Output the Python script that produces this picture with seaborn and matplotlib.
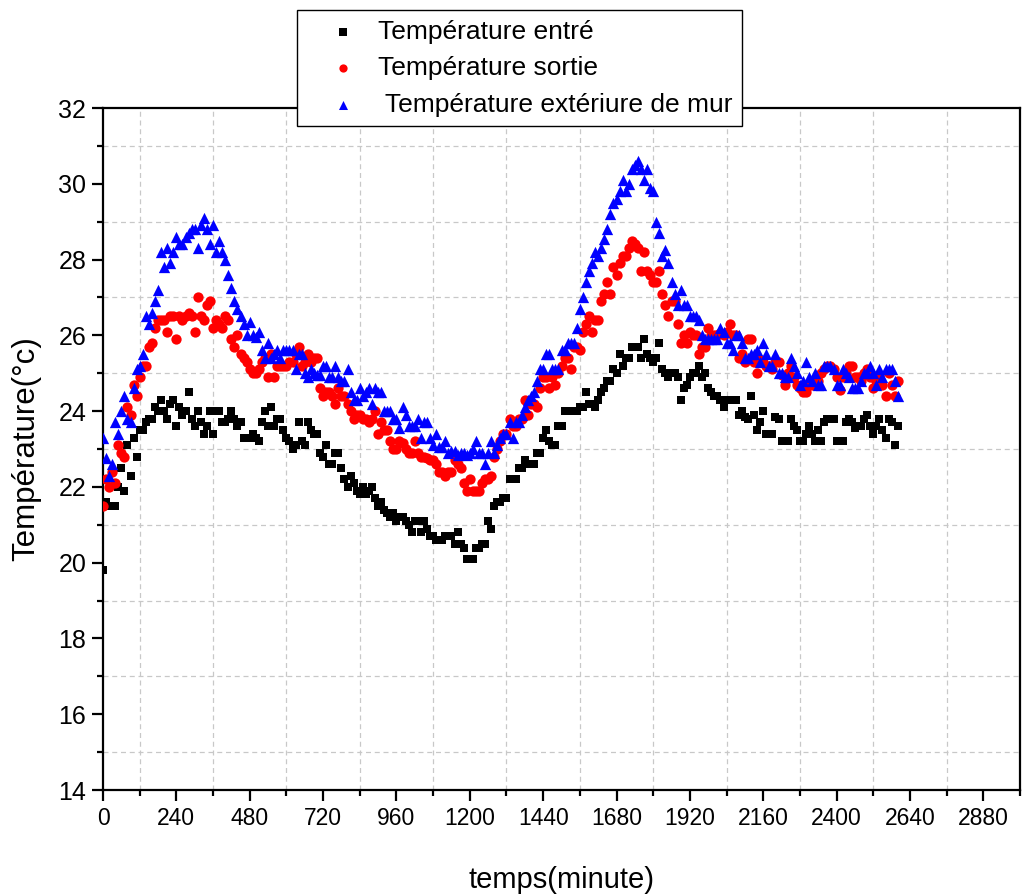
import numpy as np
import matplotlib
matplotlib.use("Agg")
import matplotlib.pyplot as plt
from matplotlib.ticker import MultipleLocator
import pandas as pd
import seaborn as sns

# time axis, one reading every 10 minutes
temps = np.arange(0, 2610, 10)

# Température entré (rows of 10 readings = 100 min)
t_entree = [
    19.8, 21.6, 21.5, 21.5, 21.5, 22.0, 22.5, 21.9, 23.1, 22.3,
    23.3, 22.8, 23.5, 23.5, 23.7, 23.8, 23.8, 24.1, 24.0, 24.3,
    24.0, 23.8, 24.2, 24.3, 23.6, 24.1, 23.9, 24.0, 24.5, 23.8,
    23.6, 24.0, 23.7, 23.4, 23.6, 24.0, 23.4, 24.0, 24.0, 23.7,
    23.7, 23.8, 24.0, 23.8, 23.6, 23.7, 23.3, 23.3, 23.3, 23.4,
    23.3, 23.2, 23.7, 24.0, 23.6, 24.1, 23.6, 23.8, 23.8, 23.5,
    23.3, 23.2, 23.0, 23.1, 23.7, 23.2, 23.1, 23.7, 23.5, 23.4,
    23.4, 22.9, 22.8, 23.1, 22.6, 22.6, 22.9, 22.9, 22.5, 22.2,
    22.0, 22.3, 22.1, 21.9, 21.8, 22.0, 21.8, 21.9, 22.0, 21.7,
    21.5, 21.6, 21.4, 21.3, 21.2, 21.3, 21.1, 21.2, 21.2, 21.1,
    21.0, 20.8, 21.1, 21.1, 20.8, 21.1, 20.9, 20.7, 20.7, 20.6,
    20.6, 20.6, 20.7, 20.7, 20.7, 20.5, 20.8, 20.5, 20.4, 20.1,
    20.1, 20.1, 20.4, 20.4, 20.5, 20.5, 21.1, 20.9, 21.5, 21.6,
    21.6, 21.7, 21.7, 22.2, 22.2, 22.2, 22.5, 22.5, 22.7, 22.6,
    22.6, 22.6, 22.9, 22.9, 23.3, 23.5, 23.2, 23.1, 23.1, 23.6,
    23.6, 24.0, 24.0, 24.0, 24.0, 24.0, 24.1, 24.1, 24.5, 24.2,
    24.2, 24.1, 24.3, 24.5, 24.6, 24.8, 24.8, 25.1, 25.0, 25.5,
    25.2, 25.4, 25.4, 25.7, 25.7, 25.7, 25.4, 25.9, 25.5, 25.4,
    25.3, 25.4, 25.8, 25.1, 25.0, 24.9, 25.0, 25.0, 24.9, 24.3,
    24.6, 24.7, 24.9, 25.0, 25.0, 25.2, 24.9, 25.0, 24.6, 24.5,
    24.4, 24.4, 24.3, 24.1, 24.3, 24.3, 24.3, 24.3, 23.9, 24.0,
    23.85, 23.8, 24.4, 23.9, 23.5, 23.7, 24.0, 23.4, 23.4, 23.4,
    23.85, 23.8, 23.2, 23.2, 23.2, 23.8, 23.6, 23.5, 23.2, 23.2,
    23.4, 23.6, 23.4, 23.2, 23.5, 23.2, 23.7, 23.8, 23.8, 23.8,
    23.2, 23.2, 23.2, 23.7, 23.8, 23.7, 23.55, 23.6, 23.6, 23.8,
    23.9, 23.6, 23.4, 23.6, 23.8, 23.5, 23.3, 23.8, 23.7, 23.1,
    23.6,
]

# Température sortie
t_sortie = [
    21.5, 22.2, 22.0, 22.4, 22.1, 23.1, 22.9, 22.8, 24.1, 23.9,
    24.7, 24.4, 24.9, 25.2, 25.2, 25.7, 25.8, 26.2, 26.4, 26.4,
    26.4, 26.1, 26.5, 26.5, 25.9, 26.5, 26.4, 26.5, 26.6, 26.5,
    26.1, 27.0, 26.5, 26.4, 26.8, 26.9, 26.2, 26.4, 26.3, 26.2,
    26.5, 26.4, 25.9, 25.7, 26.0, 25.5, 25.4, 25.3, 25.1, 25.0,
    25.0, 25.1, 25.3, 25.4, 24.9, 25.5, 24.9, 25.2, 25.2, 25.2,
    25.2, 25.3, 25.3, 25.5, 25.7, 25.2, 25.3, 25.5, 25.3, 25.4,
    25.4, 24.6, 24.4, 24.5, 24.5, 24.4, 24.2, 24.6, 24.4, 24.4,
    24.2, 24.0, 23.8, 23.9, 23.9, 23.8, 23.8, 23.7, 23.8, 24.0,
    23.4, 23.7, 23.5, 23.5, 23.2, 23.0, 23.0, 23.2, 23.15, 23.0,
    22.9, 22.9, 23.2, 22.9, 22.8, 22.8, 22.75, 22.7, 22.7, 22.6,
    22.4, 22.4, 22.3, 22.4, 22.4, 22.7, 22.6, 22.5, 22.1, 21.9,
    22.2, 21.9, 21.9, 21.9, 22.1, 22.2, 22.2, 22.3, 22.8, 23.0,
    23.2, 23.4, 23.4, 23.8, 23.6, 23.6, 23.8, 23.8, 24.3, 23.9,
    24.2, 24.2, 24.1, 24.6, 24.9, 24.9, 24.6, 24.9, 24.7, 25.0,
    25.2, 25.4, 25.4, 25.1, 25.7, 25.7, 25.6, 26.1, 26.3, 26.5,
    26.1, 26.4, 26.4, 26.9, 27.1, 27.4, 27.1, 27.8, 27.6, 27.9,
    28.1, 28.1, 28.3, 28.5, 28.4, 28.3, 27.7, 28.2, 27.7, 27.6,
    27.4, 27.4, 27.7, 27.1, 26.8, 26.5, 26.9, 26.9, 26.3, 25.8,
    26.0, 25.8, 26.1, 26.0, 26.0, 25.5, 25.7, 25.7, 26.2, 26.0,
    26.0, 26.0, 26.05, 26.0, 26.1, 26.3, 26.0, 26.0, 25.4, 25.5,
    25.3, 25.9, 25.9, 25.3, 25.0, 25.35, 25.3, 25.2, 25.2, 25.1,
    25.3, 25.3, 24.95, 24.7, 25.0, 25.2, 24.9, 24.7, 24.6, 24.5,
    24.5, 24.7, 24.7, 24.7, 24.8, 25.0, 25.1, 25.2, 25.2, 25.1,
    24.9, 24.55, 24.9, 25.0, 25.2, 25.2, 24.9, 24.9, 24.8, 25.0,
    25.1, 24.9, 24.6, 24.8, 24.95, 24.7, 24.4, 25.0, 24.7, 24.4,
    24.8,
]

# Température extérieure de mur
t_mur = [
    23.3, 22.75, 22.3, 22.6, 23.7, 23.4, 24.0, 24.4, 23.8, 23.7,
    24.6, 25.1, 25.2, 25.5, 26.5, 26.3, 26.6, 26.9, 27.2, 28.2,
    27.8, 28.3, 27.9, 28.2, 28.6, 28.4, 28.4, 28.6, 28.7, 28.8,
    28.8, 28.3, 28.9, 29.1, 28.8, 28.4, 28.9, 28.2, 28.5, 28.2,
    28.0, 27.6, 27.25, 26.9, 26.7, 26.5, 26.3, 26.0, 26.35, 26.0,
    25.95, 26.1, 25.6, 25.4, 25.8, 25.4, 25.5, 25.6, 25.4, 25.6,
    25.6, 25.6, 25.6, 25.1, 25.5, 25.5, 25.0, 24.9, 25.1, 25.0,
    24.95, 24.95, 25.2, 25.2, 24.9, 24.9, 25.2, 24.9, 24.8, 24.8,
    25.1, 24.5, 24.3, 24.3, 24.6, 24.4, 24.5, 24.6, 24.2, 24.6,
    24.5, 24.5, 24.0, 24.0, 24.0, 23.8, 23.8, 23.55, 24.1, 23.9,
    23.6, 23.6, 23.6, 23.8, 23.3, 23.7, 23.7, 23.3, 23.1, 23.4,
    23.05, 23.05, 23.2, 22.9, 22.95, 22.95, 22.85, 22.9, 22.9, 22.85,
    22.9, 23.0, 23.2, 22.9, 22.9, 22.6, 22.9, 23.2, 22.9, 23.1,
    23.3, 23.4, 23.4, 23.7, 23.3, 23.7, 23.7, 23.9, 24.1, 24.3,
    24.4, 24.5, 24.8, 25.1, 25.1, 25.5, 25.5, 25.1, 25.1, 25.1,
    25.6, 25.6, 25.8, 25.8, 25.8, 26.2, 26.7, 27.0, 27.4, 27.7,
    27.9, 28.2, 28.1, 28.3, 28.55, 28.8, 29.2, 29.5, 29.6, 29.8,
    30.1, 29.8, 30.0, 30.4, 30.5, 30.6, 30.4, 30.1, 30.4, 29.9,
    29.8, 29.0, 28.7, 28.1, 28.25, 27.9, 27.4, 27.1, 26.8, 27.2,
    26.8, 26.8, 26.5, 26.5, 26.5, 26.4, 26.0, 25.9, 25.9, 25.9,
    25.9, 25.9, 26.2, 26.1, 25.8, 25.8, 25.6, 26.0, 26.0, 25.8,
    25.4, 25.4, 25.5, 25.5, 25.6, 25.3, 25.8, 25.5, 25.2, 25.2,
    25.5, 25.0, 25.0, 24.9, 24.9, 25.4, 25.2, 25.0, 24.7, 24.8,
    25.3, 24.9, 24.8, 25.0, 24.7, 24.7, 25.2, 25.2, 25.2, 25.1,
    24.7, 24.7, 25.1, 25.0, 24.9, 24.6, 24.6, 24.6, 24.8, 25.0,
    25.0, 25.2, 25.0, 24.7, 25.1, 24.9, 25.1, 25.1, 25.1, 24.8,
    24.4,
]

labels = ["Température entré", "Température sortie", " Température extériure de mur"]

sns.set_theme(style="ticks")
plt.rcParams["font.family"] = ["Liberation Sans", "DejaVu Sans"]
plt.rcParams.update({"text.color": "black", "axes.labelcolor": "black",
                     "xtick.color": "black", "ytick.color": "black"})

fig = plt.figure(figsize=(10.27, 8.94), dpi=100)
ax = fig.add_axes([103 / 1027, 1 - 790 / 894, 917 / 1027, 682 / 894])

sns.scatterplot(x=temps, y=t_entree, ax=ax, marker="s", color="black",
                s=40, linewidth=0, label=labels[0], zorder=3)
sns.scatterplot(x=temps, y=t_sortie, ax=ax, marker="o", color="#ff0000",
                s=55, linewidth=0, label=labels[1], zorder=3)
sns.scatterplot(x=temps, y=t_mur, ax=ax, marker="^", color="#0000ff",
                s=66, linewidth=0, label=labels[2], zorder=3)

ax.set_xlim(0, 3000)
ax.set_ylim(14, 32)
ax.xaxis.set_major_locator(MultipleLocator(240))
ax.xaxis.set_minor_locator(MultipleLocator(120))
ax.yaxis.set_major_locator(MultipleLocator(2))
ax.yaxis.set_minor_locator(MultipleLocator(1))
ax.grid(which="minor", linestyle=(0, (4, 3)), color="#c8c8c8", linewidth=0.9)
ax.grid(which="major", visible=False)

for sp in ax.spines.values():
    sp.set_linewidth(1.6)
    sp.set_color("black")
ax.tick_params(which="major", direction="out", length=8, width=1.6, pad=4)
ax.tick_params(which="minor", direction="out", length=4, width=1.6)
ax.tick_params(axis="x", labelsize=16.5)
ax.tick_params(axis="y", labelsize=18)
ax.tick_params(top=False, right=False, which="both")

ax.set_xlabel("temps(minute)", fontsize=21, labelpad=26)
ax.set_ylabel("Température(°c)", fontsize=22.5, labelpad=12)

leg = ax.legend(loc="upper left", bbox_to_anchor=(297 / 1027, 1 - 10 / 894),
                bbox_transform=fig.transFigure, frameon=True, fancybox=False,
                edgecolor="black", framealpha=1, fontsize=19, markerscale=0.8,
                borderpad=0.36, labelspacing=0.48, handlelength=2.8,
                handletextpad=-0.1, borderaxespad=0)
leg.get_frame().set_linewidth(1.0)
leg.set_zorder(10)

fig.savefig("out.png", dpi=100)
